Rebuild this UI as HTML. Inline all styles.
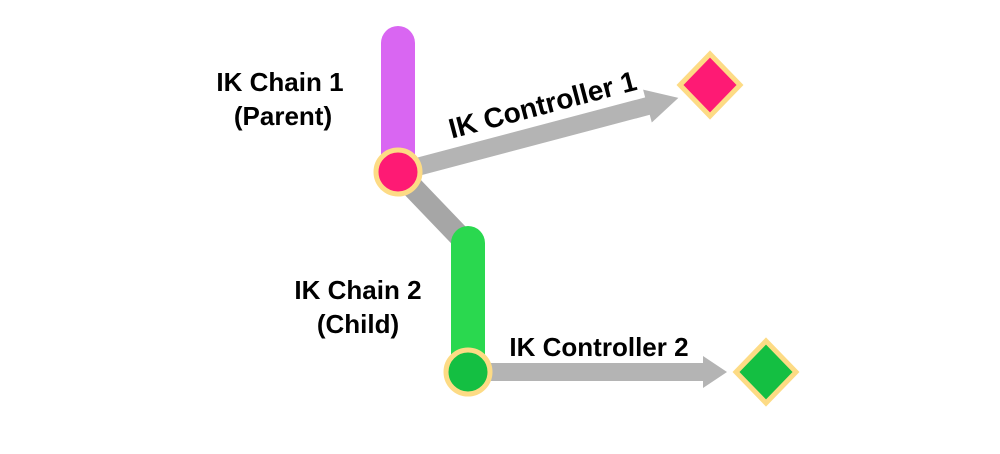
<!DOCTYPE html>
<html><head><style>body{margin:0;background:#fff}</style></head><body>
<svg width="1000" height="449" viewBox="0 0 1000 449" xmlns="http://www.w3.org/2000/svg" font-family="Liberation Sans, sans-serif" font-weight="bold">
<rect width="1000" height="449" fill="#fff"/>
<line x1="398" y1="172" x2="468" y2="245" stroke="#a6a6a6" stroke-width="22"/>
<line x1="398" y1="43" x2="398" y2="172" stroke="#d966f2" stroke-width="34" stroke-linecap="round"/>
<line x1="468" y1="243" x2="468" y2="372" stroke="#2ad84f" stroke-width="34" stroke-linecap="round"/>
<g transform="translate(398,172) rotate(-14.8)">
<rect x="0" y="-9" width="262" height="18" fill="#b4b4b4"/>
<polygon points="258,-17 290,0 258,17" fill="#b4b4b4"/>
</g>
<rect x="470" y="363" width="235" height="18" fill="#b4b4b4"/>
<polygon points="703,356 727,372 703,388" fill="#b4b4b4"/>
<circle cx="398" cy="172" r="22" fill="#fe1a74" stroke="#fddb85" stroke-width="5"/>
<circle cx="468" cy="372" r="22" fill="#14bf42" stroke="#fddb85" stroke-width="5"/>
<polygon points="710,54 740,85 710,116 680,85" fill="#fe1a74" stroke="#fddb85" stroke-width="5"/>
<polygon points="766,341 796,372 766,403 736,372" fill="#14bf42" stroke="#fddb85" stroke-width="5"/>
<g fill="#000" text-anchor="middle">
<text x="280" y="91" font-size="26">IK Chain 1</text>
<text x="283" y="125" font-size="26">(Parent)</text>
<text x="358" y="299" font-size="26">IK Chain 2</text>
<text x="358" y="333" font-size="26">(Child)</text>
<text x="599" y="356" font-size="26">IK Controller 2</text>
<text transform="translate(545,114) rotate(-14.8)" x="0" y="0" font-size="28">IK Controller 1</text>
</g>
</svg>
</body></html>
